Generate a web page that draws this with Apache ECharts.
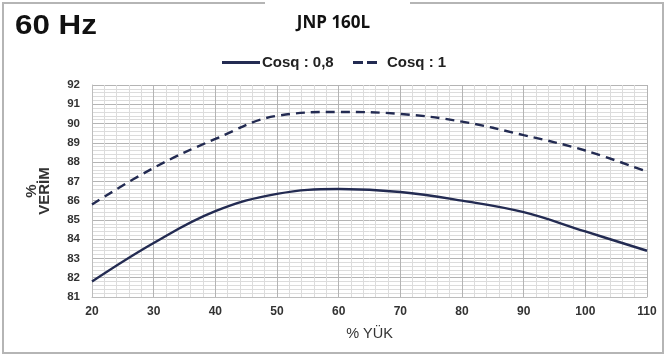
<!DOCTYPE html>
<html>
<head>
<meta charset="utf-8">
<script src="https://cdn.jsdelivr.net/npm/echarts@6/dist/echarts.min.js"></script>
<style>
  html, body { margin: 0; padding: 0; background: #fff; }
  #chart { width: 667px; height: 358px; }
</style>
</head>
<body>
<div id="chart"></div>
<script>
// load (%) and efficiency (%)
let loadPct = [20, 30, 40, 50, 60, 70, 80, 90, 100, 110];
let effCos08 = [81.8, 83.8, 85.45, 86.35, 86.6, 86.45, 86.0, 85.4, 84.4, 83.4];
let effCos1 = [85.8, 87.7, 89.2, 90.4, 90.6, 90.5, 90.1, 89.4, 88.6, 87.5];

let lineColor = '#232b52';
let font = '"Liberation Sans", Arial, sans-serif';

function pairs(ys) {
  return loadPct.map((x, i) => [x, ys[i]]);
}

let legendText = { fontFamily: font, fontWeight: 'bold', fontSize: 15, color: '#222' };

let chart = echarts.init(document.getElementById('chart'));
chart.setOption({
  animation: false,
  graphic: [
    // outer frame
    { type: 'polyline', shape: { points: [[265, 3], [3, 3], [3, 353], [663, 353], [663, 3], [410, 3]] },
      style: { stroke: '#b5b5b5', lineWidth: 2, fill: null } },
    { type: 'text', left: 15, top: 12, scaleX: 1.12,
      style: { text: '60 Hz', font: 'bold 28px ' + font, fill: '#111' } }
  ],
  title: {
    text: 'JNP 160L',
    left: 'center',
    top: 10,
    textStyle: { fontFamily: '"Open Sans", sans-serif', fontWeight: 'bold', fontSize: 17, color: '#111' }
  },
  legend: [
    {
      top: 50, left: 217,
      itemWidth: 38, itemHeight: 3,
      textStyle: Object.assign({ padding: [0, 0, 0, -3] }, legendText),
      data: [{ name: 'Cosq : 0,8', icon: 'path://M0,0 L38,0 L38,3 L0,3 Z' }]
    },
    {
      top: 50, left: 348,
      itemWidth: 24, itemHeight: 3,
      textStyle: Object.assign({ padding: [0, 0, 0, 5] }, legendText),
      data: [{ name: 'Cosq : 1', icon: 'path://M0,0 L10,0 L10,3 L0,3 Z M14,0 L24,0 L24,3 L14,3 Z' }]
    }
  ],
  grid: { left: 92, right: 20, top: 85, bottom: 61 },
  xAxis: {
    type: 'value',
    min: 20, max: 110, interval: 10,
    name: '% YÜK',
    nameLocation: 'middle',
    nameGap: 29,
    nameTextStyle: { fontFamily: font, fontSize: 14.5, color: '#333' },
    axisLine: { show: true, lineStyle: { color: '#bdbdbd' } },
    axisTick: { show: false },
    axisLabel: { fontFamily: font, fontWeight: 'bold', fontSize: 12, color: '#333', margin: 9 },
    splitLine: { show: true, lineStyle: { color: '#b4b4b4', width: 1 } },
    minorTick: { show: false, splitNumber: 5 },
    minorSplitLine: { show: true, lineStyle: { color: '#dcdcdc', width: 1 } }
  },
  yAxis: {
    type: 'value',
    min: 81, max: 92, interval: 1,
    name: '%\nVERİM',
    nameLocation: 'middle',
    nameRotate: 90,
    nameGap: 41,
    nameTextStyle: { fontFamily: font, fontWeight: 'bold', fontSize: 15, color: '#333', lineHeight: 13 },
    axisLine: { show: true, lineStyle: { color: '#bdbdbd' } },
    axisTick: { show: false },
    axisLabel: { fontFamily: font, fontWeight: 'bold', fontSize: 11.5, color: '#333', margin: 12 },
    splitLine: { show: true, lineStyle: { color: '#b4b4b4', width: 1 } },
    minorTick: { show: false, splitNumber: 5 },
    minorSplitLine: { show: true, lineStyle: { color: '#dcdcdc', width: 1 } }
  },
  series: [
    {
      name: 'Cosq : 0,8',
      type: 'line',
      smooth: 0.4,
      showSymbol: false,
      data: pairs(effCos08),
      itemStyle: { color: lineColor },
      lineStyle: { color: lineColor, width: 2.4 }
    },
    {
      name: 'Cosq : 1',
      type: 'line',
      smooth: 0.4,
      showSymbol: false,
      data: pairs(effCos1),
      itemStyle: { color: lineColor },
      lineStyle: { color: lineColor, width: 2.4, type: [9, 6] }
    }
  ]
});
</script>
</body>
</html>
